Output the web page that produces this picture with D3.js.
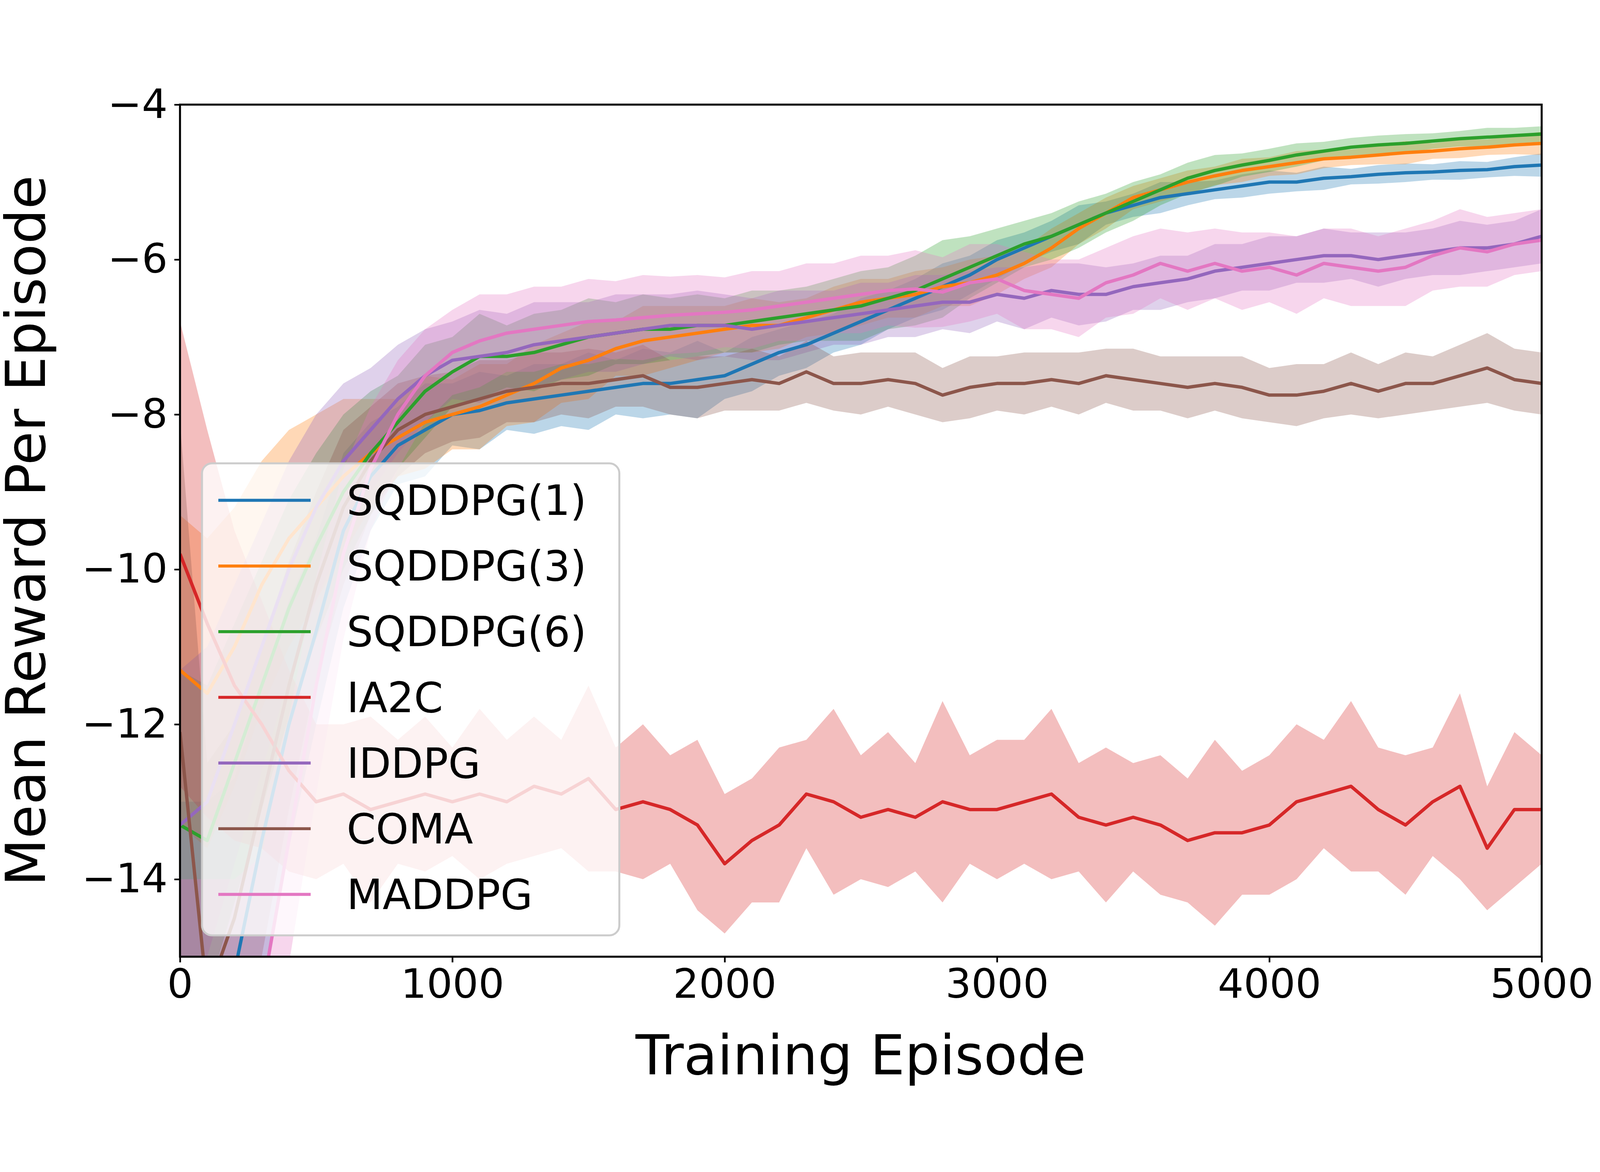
<!DOCTYPE html>
<html><head><meta charset="utf-8">
<script src="https://cdn.jsdelivr.net/npm/d3@7"></script>
<style>html,body{margin:0;padding:0;overflow:hidden;background:#fff}svg{display:block;width:100vw;height:100vh}</style></head>
<body><svg id="c" viewBox="0 0 4800 3000" preserveAspectRatio="xMidYMid meet"></svg>
<script>
const episodes = d3.range(0, 5001, 100);
const seriesNames = ["SQDDPG(1)","SQDDPG(3)","SQDDPG(6)","IA2C","IDDPG","COMA","MADDPG"];
const colors = ["#1f77b4","#ff7f0e","#2ca02c","#d62728","#9467bd","#8c564b","#e377c2"];
const sqddpg1 = [-16,-16,-15.2,-13.5,-12,-10.8,-9.5,-8.8,-8.4,-8.2,-8.0,-7.95,-7.85,-7.8,-7.75,-7.7,-7.65,-7.6,-7.6,-7.55,-7.5,-7.35,-7.2,-7.1,-6.95,-6.8,-6.65,-6.5,-6.35,-6.2,-6.0,-5.85,-5.7,-5.55,-5.4,-5.3,-5.2,-5.15,-5.1,-5.05,-5.0,-5.0,-4.95,-4.93,-4.9,-4.88,-4.87,-4.85,-4.84,-4.8,-4.78];
const sqddpg3 = [-11.3,-11.6,-11.0,-10.2,-9.6,-9.2,-8.8,-8.5,-8.3,-8.1,-8.0,-7.9,-7.75,-7.6,-7.4,-7.3,-7.15,-7.05,-7.0,-6.95,-6.9,-6.85,-6.85,-6.75,-6.65,-6.55,-6.5,-6.45,-6.35,-6.3,-6.2,-6.05,-5.85,-5.6,-5.4,-5.2,-5.1,-5.0,-4.92,-4.85,-4.8,-4.75,-4.7,-4.68,-4.65,-4.62,-4.6,-4.57,-4.55,-4.52,-4.5];
const sqddpg6 = [-13.3,-13.5,-12.5,-11.5,-10.5,-9.7,-9.0,-8.5,-8.1,-7.7,-7.45,-7.25,-7.25,-7.2,-7.1,-7.0,-6.95,-6.9,-6.9,-6.85,-6.85,-6.8,-6.75,-6.7,-6.65,-6.6,-6.5,-6.4,-6.25,-6.1,-5.95,-5.8,-5.7,-5.55,-5.4,-5.25,-5.1,-4.95,-4.85,-4.78,-4.72,-4.65,-4.6,-4.55,-4.52,-4.5,-4.47,-4.44,-4.42,-4.4,-4.38];
const ia2c = [-9.8,-10.7,-11.5,-12.0,-12.6,-13.0,-12.9,-13.1,-13.0,-12.9,-13.0,-12.9,-13.0,-12.8,-12.9,-12.7,-13.1,-13.0,-13.1,-13.3,-13.8,-13.5,-13.3,-12.9,-13.0,-13.2,-13.1,-13.2,-13.0,-13.1,-13.1,-13.0,-12.9,-13.2,-13.3,-13.2,-13.3,-13.5,-13.4,-13.4,-13.3,-13.0,-12.9,-12.8,-13.1,-13.3,-13.0,-12.8,-13.6,-13.1,-13.1];
const iddpg = [-13.3,-13.0,-12.0,-11.0,-10.0,-9.2,-8.6,-8.2,-7.8,-7.5,-7.3,-7.25,-7.2,-7.1,-7.05,-7.0,-6.95,-6.9,-6.85,-6.85,-6.85,-6.9,-6.85,-6.8,-6.75,-6.7,-6.65,-6.6,-6.55,-6.55,-6.45,-6.5,-6.4,-6.45,-6.45,-6.35,-6.3,-6.25,-6.15,-6.1,-6.05,-6.0,-5.95,-5.95,-6.0,-5.95,-5.9,-5.85,-5.85,-5.8,-5.7];
const coma = [-12.1,-15.5,-14.5,-13.0,-11.5,-10.2,-9.2,-8.6,-8.2,-8.0,-7.9,-7.8,-7.7,-7.65,-7.6,-7.6,-7.55,-7.5,-7.65,-7.65,-7.6,-7.55,-7.6,-7.45,-7.6,-7.6,-7.55,-7.6,-7.75,-7.65,-7.6,-7.6,-7.55,-7.6,-7.5,-7.55,-7.6,-7.65,-7.6,-7.65,-7.75,-7.75,-7.7,-7.6,-7.7,-7.6,-7.6,-7.5,-7.4,-7.55,-7.6];
const maddpg = [-16,-16,-16,-15.5,-13.5,-11.5,-9.8,-8.7,-8.0,-7.5,-7.2,-7.05,-6.95,-6.9,-6.85,-6.8,-6.78,-6.75,-6.72,-6.7,-6.68,-6.65,-6.6,-6.55,-6.5,-6.45,-6.4,-6.38,-6.42,-6.3,-6.25,-6.4,-6.45,-6.5,-6.3,-6.2,-6.05,-6.15,-6.05,-6.15,-6.1,-6.2,-6.05,-6.1,-6.15,-6.1,-5.95,-5.85,-5.9,-5.8,-5.75];
// band half-widths read from the shaded areas
const spread1 = [3,3,2.5,2,1.6,1.2,1.0,0.7,0.5,0.6,0.4,0.5,0.35,0.45,0.4,0.5,0.35,0.45,0.4,0.5,0.3,0.35,0.3,0.3,0.25,0.3,0.25,0.25,0.3,0.25,0.25,0.2,0.2,0.25,0.15,0.15,0.2,0.15,0.12,0.15,0.15,0.12,0.15,0.1,0.12,0.12,0.1,0.12,0.1,0.12,0.15];
const spread3 = [2,2,1.8,1.6,1.4,1.2,1.0,0.7,0.5,0.6,0.45,0.55,0.4,0.5,0.45,0.5,0.35,0.45,0.4,0.35,0.3,0.35,0.3,0.25,0.3,0.3,0.25,0.3,0.25,0.3,0.25,0.2,0.25,0.2,0.2,0.15,0.15,0.15,0.12,0.15,0.12,0.15,0.12,0.1,0.12,0.15,0.1,0.12,0.1,0.12,0.15];
const spread6 = [2,2,1.8,1.6,1.4,1.2,1.0,0.8,0.6,0.6,0.45,0.55,0.4,0.5,0.45,0.5,0.4,0.45,0.4,0.4,0.35,0.4,0.35,0.35,0.4,0.45,0.4,0.45,0.5,0.4,0.35,0.3,0.3,0.3,0.25,0.25,0.2,0.2,0.2,0.15,0.15,0.15,0.12,0.12,0.12,0.12,0.1,0.1,0.12,0.1,0.1];
const spreadIa2c = [3,2.5,2,1.6,1.3,1.0,0.9,1.2,0.8,1.0,0.7,1.1,0.8,0.9,0.7,1.2,0.8,1.0,0.7,1.1,0.9,0.8,1.0,0.7,1.2,0.8,1.0,0.7,1.3,0.7,0.9,0.8,1.1,0.7,1.0,0.7,0.9,0.8,1.2,0.8,0.9,1.0,0.7,1.1,0.8,0.9,0.7,1.2,0.8,1.0,0.7];
const spreadIddpg = [2,2,1.8,1.6,1.4,1.2,1.0,0.8,0.7,0.6,0.5,0.6,0.5,0.55,0.5,0.45,0.5,0.45,0.4,0.45,0.4,0.4,0.45,0.4,0.35,0.4,0.35,0.4,0.35,0.4,0.35,0.4,0.35,0.4,0.35,0.3,0.35,0.3,0.35,0.3,0.35,0.3,0.35,0.3,0.35,0.3,0.3,0.35,0.3,0.3,0.35];
const spreadComa = [4,3,2.5,2,1.6,1.2,1.0,0.7,0.6,0.5,0.45,0.5,0.4,0.45,0.4,0.45,0.35,0.4,0.35,0.4,0.35,0.4,0.35,0.4,0.35,0.4,0.35,0.4,0.35,0.4,0.35,0.4,0.35,0.4,0.35,0.4,0.35,0.4,0.35,0.4,0.35,0.4,0.35,0.4,0.35,0.4,0.35,0.4,0.45,0.4,0.4];
const spreadMaddpg = [2,2,2,1.8,1.6,1.4,1.1,0.8,0.7,0.6,0.55,0.6,0.5,0.55,0.5,0.55,0.5,0.55,0.5,0.5,0.45,0.5,0.45,0.5,0.45,0.5,0.45,0.5,0.45,0.5,0.45,0.5,0.45,0.5,0.45,0.5,0.45,0.5,0.45,0.5,0.45,0.5,0.45,0.5,0.45,0.5,0.45,0.5,0.45,0.4,0.4];
const xTicks = [0,1000,2000,3000,4000,5000];
const yTicks = [-14,-12,-10,-8,-6,-4];

const means = [sqddpg1,sqddpg3,sqddpg6,ia2c,iddpg,coma,maddpg];
const spreads = [spread1,spread3,spread6,spreadIa2c,spreadIddpg,spreadComa,spreadMaddpg];

const L=540,R=4625,T=56,B=2612;
const svg=d3.select("#c");
const x=d3.scaleLinear().domain([0,5000]).range([L,R]);
const y=d3.scaleLinear().domain([-15,-4]).range([B,T]);
svg.append("rect").attr("width",4800).attr("height",3000).attr("fill","#fff");
svg.append("defs").append("clipPath").attr("id","clip").append("rect").attr("x",L).attr("y",T).attr("width",R-L).attr("height",B-T);
const g=svg.append("g").attr("clip-path","url(#clip)");
const area=d3.area().x(d=>x(d.e)).y0(d=>y(d.m-d.s)).y1(d=>y(d.m+d.s));
const line=d3.line().x(d=>x(d.e)).y(d=>y(d.m));
means.forEach((m,i)=>{
  const data=episodes.map((e,j)=>({e,m:m[j],s:spreads[i][j]}));
  g.append("path").datum(data).attr("d",area).attr("fill",colors[i]).attr("fill-opacity",0.3);
});
means.forEach((m,i)=>{
  const data=episodes.map((e,j)=>({e,m:m[j]}));
  g.append("path").datum(data).attr("d",line).attr("fill","none").attr("stroke",colors[i]).attr("stroke-width",10).attr("stroke-linejoin","round");
});
const fmt=d=>String(d).replace("-","\u2212");
const xa=svg.append("g").attr("transform",`translate(0,${B})`).call(d3.axisBottom(x).tickValues(xTicks).tickFormat(fmt).tickSize(17).tickPadding(20));
const ya=svg.append("g").attr("transform",`translate(${L},0)`).call(d3.axisLeft(y).tickValues(yTicks).tickFormat(fmt).tickSize(17).tickPadding(20));
[xa,ya].forEach(a=>{a.selectAll("text").attr("font-family","DejaVu Sans").attr("font-size",122).attr("fill","#000");
  a.selectAll("line").attr("stroke","#000").attr("stroke-width",5);a.select(".domain").remove();});
svg.append("rect").attr("x",L).attr("y",T).attr("width",R-L).attr("height",B-T).attr("fill","none").attr("stroke","#000").attr("stroke-width",6);
svg.append("text").attr("x",(L+R)/2).attr("y",2965).attr("text-anchor","middle").attr("font-family","DejaVu Sans").attr("font-size",165).text("Training Episode");
svg.append("text").attr("transform",`translate(135,${(T+B)/2}) rotate(-90)`).attr("text-anchor","middle").attr("font-family","DejaVu Sans").attr("font-size",165).text("Mean Reward Per Episode");
const lg=svg.append("g");
lg.append("rect").attr("x",606).attr("y",1132).attr("width",1252).attr("height",1416).attr("rx",30).attr("fill","#fff").attr("fill-opacity",0.8).attr("stroke","#ccc").attr("stroke-width",6);
seriesNames.forEach((n,i)=>{
  const yy=1243+i*197;
  lg.append("line").attr("x1",655).attr("x2",932).attr("y1",yy).attr("y2",yy).attr("stroke",colors[i]).attr("stroke-width",9);
  lg.append("text").attr("x",1040).attr("y",yy+44).attr("font-family","DejaVu Sans").attr("font-size",125).text(n);
});
</script></body></html>
